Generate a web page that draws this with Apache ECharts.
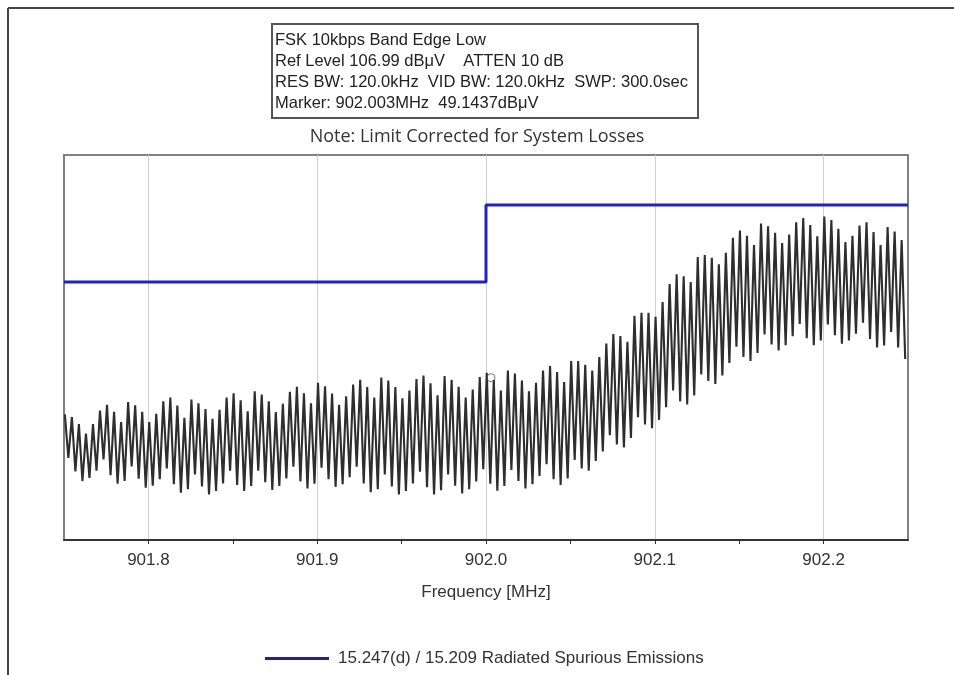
<!DOCTYPE html>
<html>
<head>
<meta charset="utf-8">
<script src="https://cdn.jsdelivr.net/npm/echarts@6/dist/echarts.min.js"></script>
<style>
html,body{margin:0;padding:0;background:#fff;}
#chart{width:954px;height:675px;}
</style>
</head>
<body>
<div id="chart"></div>
<script>
// ---- data ----
const headerLines = [
  'FSK 10kbps Band Edge Low',
  'Ref Level 106.99 dB\u03bcV    ATTEN 10 dB',
  'RES BW: 120.0kHz  VID BW: 120.0kHz  SWP: 300.0sec',
  'Marker: 902.003MHz  49.1437dB\u03bcV'
];
const noteText = 'Note: Limit Corrected for System Losses';
const xAxisName = 'Frequency [MHz]';
const limitName = '15.247(d) / 15.209 Radiated Spurious Emissions';

const refLevel = 106.99;     // top of screen, dBuV
const bottomLevel = 6.99;    // 10 dB/div x 10 div
const freqMin = 901.75;
const freqMax = 902.25;
const majorTicks = [901.8, 901.9, 902.0, 902.1, 902.2];
const tickLabels = ['901.8', '901.9', '902.0', '902.1', '902.2'];
const minorTicks = [901.85, 901.95, 902.05, 902.15];

// sweep start and bin spacing of the analyzer trace
const startFreq = 901.7505;
const stepFreq = 0.002083;

// trace peaks / troughs (dBuV), one pair per sweep stroke
const peaks = [
  39.6,38.9,37.1,34.6,37.1,40.6,42.1,40.3,37.6,42.8,
  42.0,40.3,37.6,39.8,43.0,44.0,41.9,38.7,43.5,42.5,
  41.0,38.5,40.8,44.0,45.1,43.3,40.4,45.6,44.8,43.0,
  40.2,42.4,45.5,46.8,45.1,42.5,47.8,46.9,45.0,42.1,
  44.3,47.4,48.6,46.7,44.0,49.2,48.4,46.7,43.8,45.8,
  48.8,49.7,47.7,44.6,49.6,48.6,46.8,44.0,46.1,49.3,
  50.4,48.6,45.8,51.0,50.2,48.4,45.6,47.8,51.0,52.2,
  50.6,48.0,53.5,53.5,52.5,51.0,54.5,58.0,60.5,60.0,
  58.5,65.2,66.0,66.0,65.0,68.8,73.5,76.0,75.5,74.0,
  80.5,81.0,80.3,78.6,81.6,85.5,87.4,86.0,83.6,89.2,
  88.5,86.8,84.1,86.3,89.5,90.6,88.8,85.9,91.0,90.1,
  87.8,84.4,86.0,88.7,89.5,87.0,83.6,88.3,87.1,84.9
];
const troughs = [
  28.3,24.8,22.3,23.1,25.0,27.9,23.8,21.6,22.3,26.1,
  22.9,20.6,21.1,22.8,25.6,21.5,19.3,20.2,24.0,20.9,
  18.8,19.7,21.7,25.0,21.3,19.7,21.0,25.0,22.0,20.0,
  21.0,23.0,26.0,22.2,20.4,21.6,25.8,22.8,20.8,21.5,
  23.3,26.0,21.7,19.4,20.2,24.0,20.9,18.8,19.7,21.7,
  24.7,20.7,18.8,19.9,24.0,21.1,19.1,20.2,22.2,25.4,
  21.6,19.8,21.0,25.2,22.3,20.4,21.5,23.6,26.7,22.8,
  21.3,23.0,27.8,25.6,25.0,27.5,30.0,34.2,31.8,31.0,
  33.5,38.9,37.0,36.0,38.2,41.5,45.8,43.0,42.2,44.5,
  50.0,48.3,47.5,49.7,53.0,57.2,54.5,53.5,55.6,60.4,
  57.8,56.2,57.6,59.9,63.1,59.4,57.6,58.8,63.0,60.2,
  58.0,58.8,60.6,63.4,59.2,57.0,57.5,61.0,57.0,54.0
];

// limit line (step)
const limitFreqs = [901.75, 902.0, 902.0, 902.25];
const limitLevels = [74.0, 74.0, 94.0, 94.0];

// marker
const markerFreq = 902.003;
const markerLevel = 49.1437;

// ---- build series data ----
const traceData = [];
for (let i = 0; i < peaks.length; i++) {
  traceData.push([startFreq + (2 * i) * stepFreq, peaks[i]]);
  traceData.push([startFreq + (2 * i + 1) * stepFreq, troughs[i]]);
}
const limitData = limitFreqs.map((f, i) => [f, limitLevels[i]]);

const chart = echarts.init(document.getElementById('chart'), null, {renderer: 'canvas'});

const headerGraphics = headerLines.map((t, i) => ({
  type: 'text',
  left: 275,
  top: 32 + i * 21,
  style: {text: t, font: '16.5px "Liberation Sans", Arial, sans-serif', fill: '#222'}
}));

const labelFont = '"Liberation Sans Narrow", "Liberation Sans", sans-serif';

chart.setOption({
  animation: false,
  backgroundColor: '#fff',
  grid: {left: 64, right: 46, top: 155, bottom: 135, show: true, borderColor: '#808080', borderWidth: 2, containLabel: false},
  xAxis: [
    {
      type: 'value',
      min: freqMin,
      max: freqMax,
      name: xAxisName,
      nameLocation: 'middle',
      nameGap: 44,
      nameTextStyle: {fontFamily: labelFont, fontSize: 17, color: '#333'},
      axisLine: {show: true, onZero: false, lineStyle: {color: '#333', width: 2}},
      axisTick: {show: true, length: 4, customValues: majorTicks, lineStyle: {color: '#333'}},
      axisLabel: {
        margin: 12,
        fontFamily: labelFont,
        fontSize: 17,
        color: '#333',
        customValues: majorTicks,
        formatter: function (v) {
          const s = v.toFixed(1);
          return tickLabels.indexOf(s) >= 0 ? s : '';
        }
      },
      splitLine: {show: true, lineStyle: {color: '#cfcfcf', width: 1}}
    },
    {
      type: 'value',
      min: freqMin,
      max: freqMax,
      position: 'bottom',
      axisLine: {show: false, onZero: false},
      axisTick: {show: true, length: 4, customValues: minorTicks, lineStyle: {color: '#333'}},
      axisLabel: {show: false},
      splitLine: {show: false}
    }
  ],
  yAxis: {
    type: 'value',
    min: bottomLevel,
    max: refLevel,
    show: false
  },
  legend: {
    data: [limitName],
    left: 260,
    top: 645,
    itemWidth: 64,
    itemHeight: 3,
    itemGap: 10,
    icon: 'rect',
    textStyle: {fontFamily: labelFont, fontSize: 17, color: '#333', padding: [0, 0, 0, 4]}
  },
  series: [
    {
      name: 'trace',
      type: 'line',
      data: traceData,
      showSymbol: false,
      symbol: 'none',
      lineStyle: {color: '#2e2e2e', width: 2.1},
      z: 2,
      silent: true
    },
    {
      name: limitName,
      type: 'line',
      data: limitData,
      showSymbol: false,
      symbol: 'none',
      color: '#23238f',
      lineStyle: {color: '#2323b8', width: 3},
      z: 3
    },
    {
      name: 'marker',
      type: 'scatter',
      data: [[markerFreq, markerLevel]],
      symbol: 'circle',
      symbolSize: 8,
      itemStyle: {color: 'rgba(255,255,255,0)', borderColor: '#555', borderWidth: 1},
      z: 4
    }
  ],
  graphic: [
    {type: 'line', shape: {x1: 8, y1: 8, x2: 954, y2: 8}, style: {stroke: '#444', lineWidth: 2}},
    {type: 'line', shape: {x1: 8, y1: 8, x2: 8, y2: 675}, style: {stroke: '#444', lineWidth: 2}},
    {type: 'rect', shape: {x: 272, y: 24, width: 426, height: 94}, style: {fill: 'none', stroke: '#555', lineWidth: 2}},
    ...headerGraphics,
    {
      type: 'text',
      left: 'center',
      top: 128,
      style: {text: noteText, font: '18px "Open Sans", "Noto Sans", sans-serif', fill: '#333'}
    }
  ]
});
</script>
</body>
</html>
